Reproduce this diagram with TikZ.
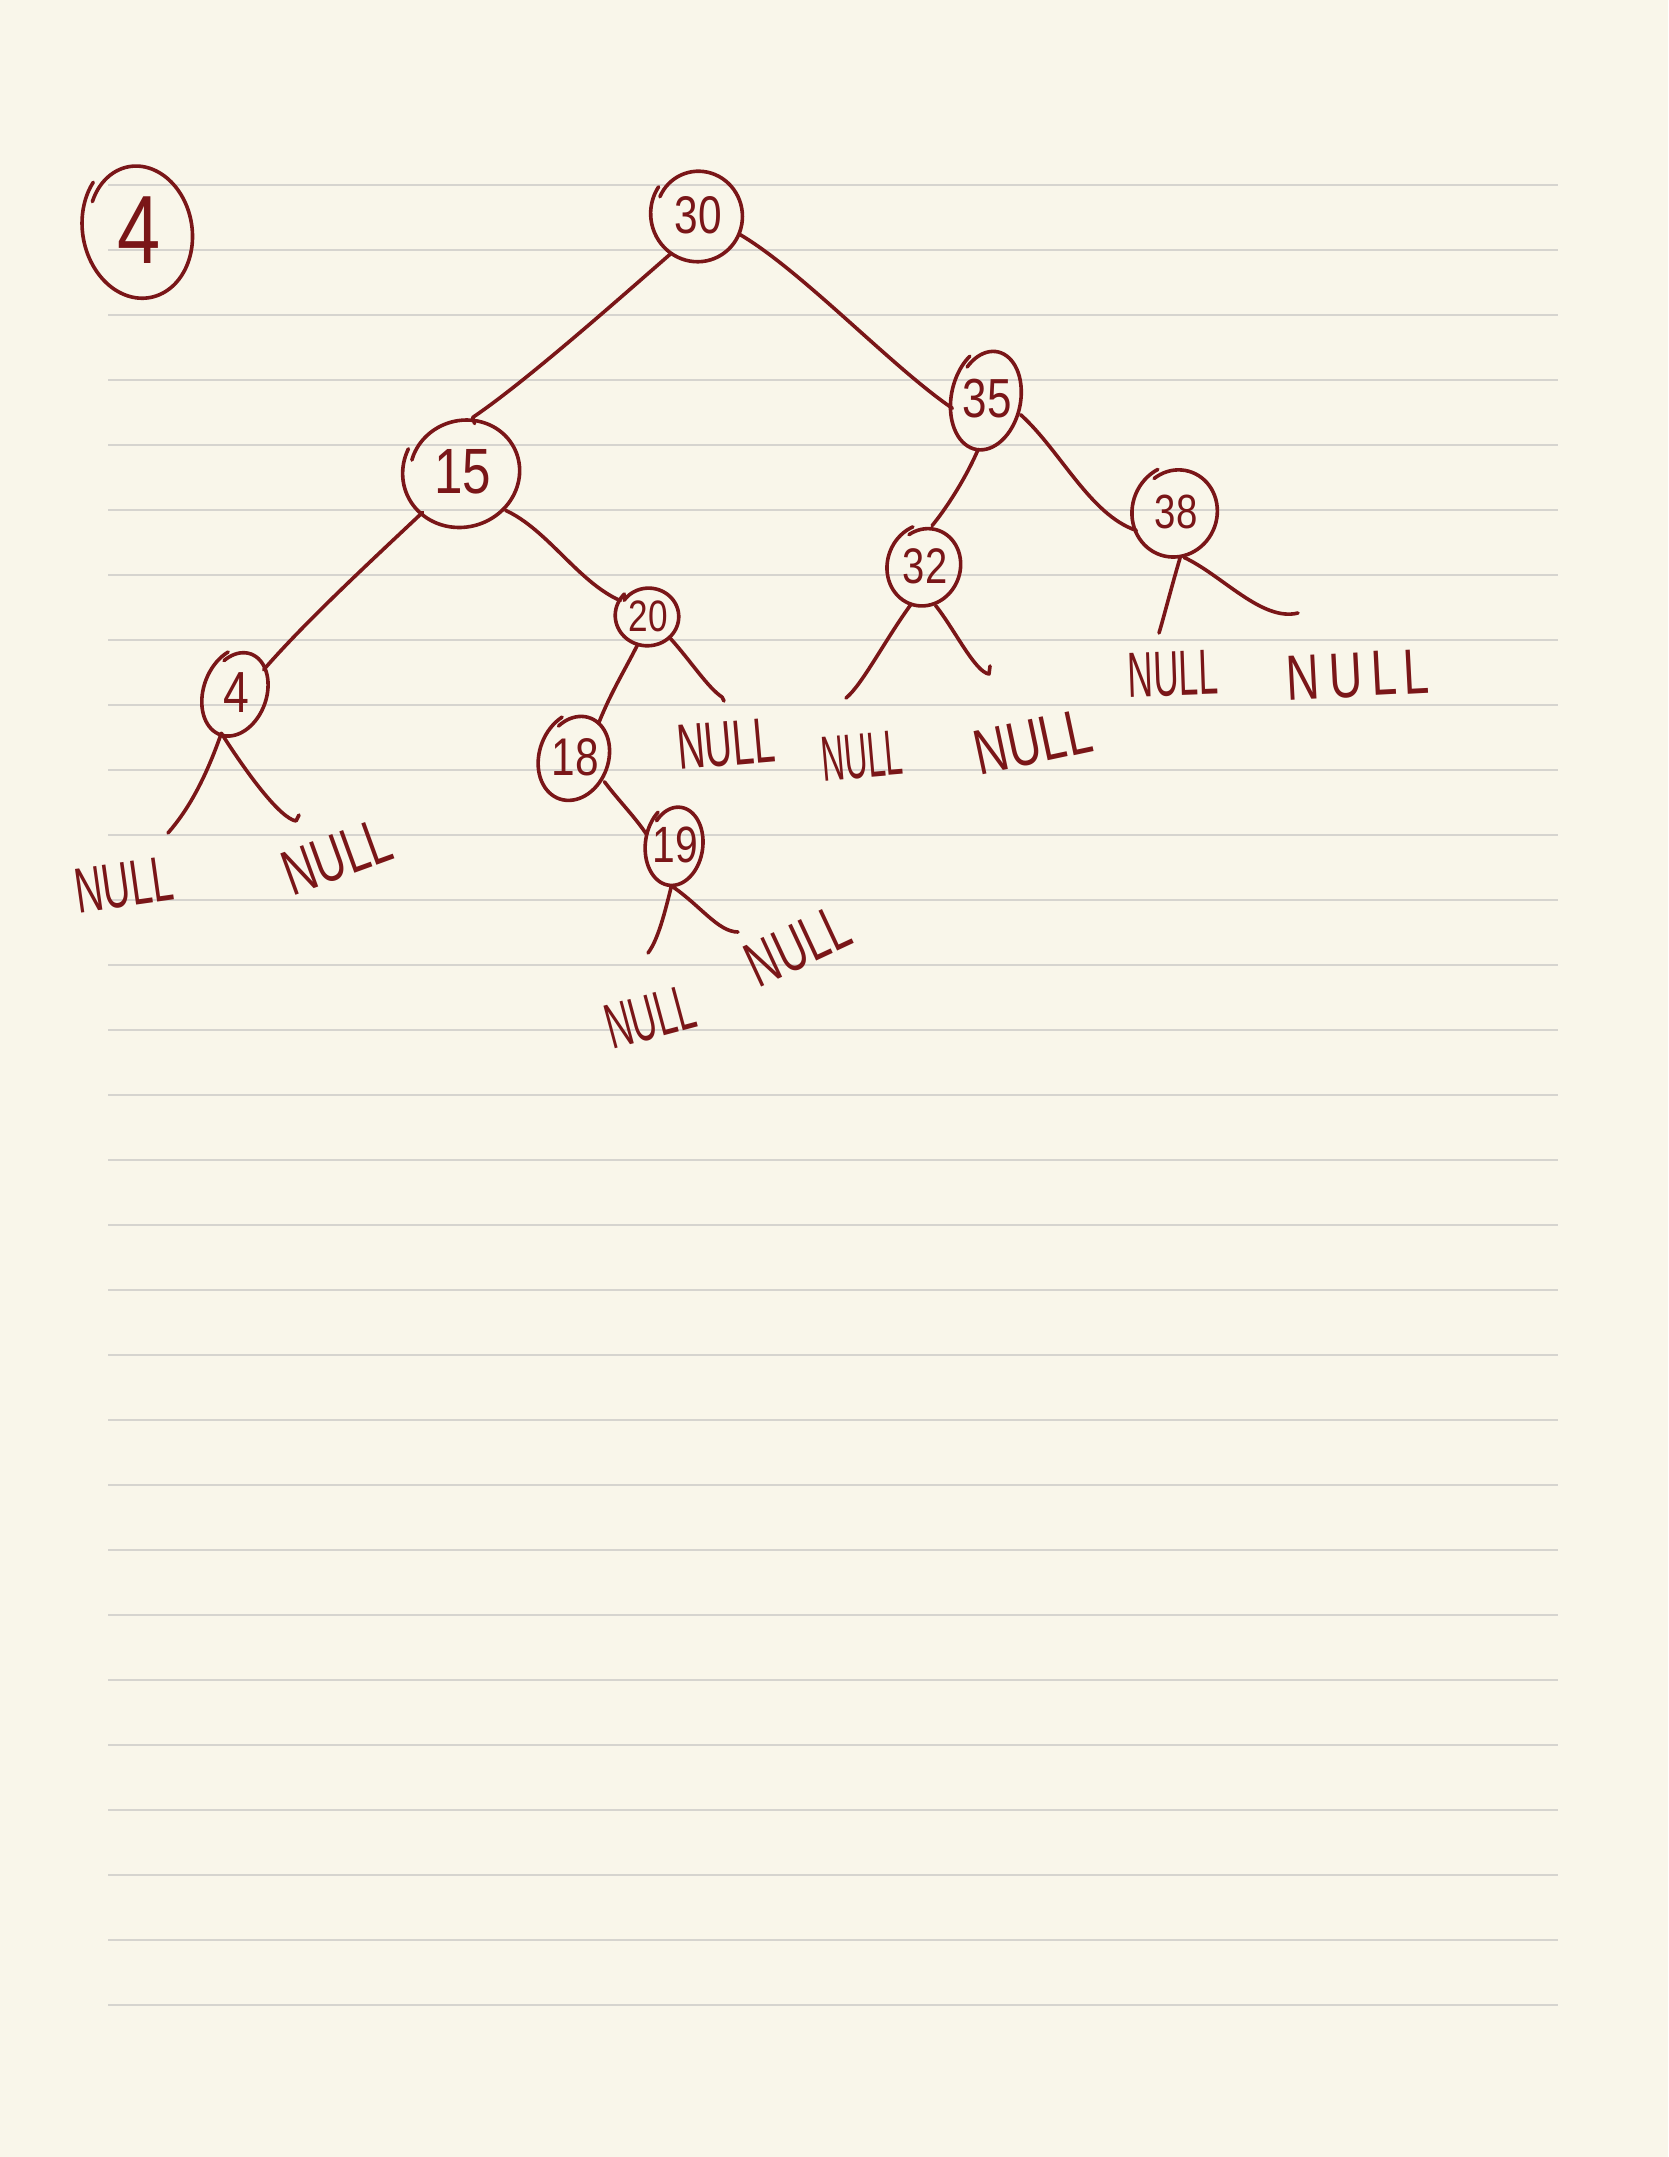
\documentclass[tikz,border=0pt]{standalone}
\usepackage{fontspec}
\setmainfont{Liberation Sans}
\usetikzlibrary{shapes.geometric}
\definecolor{paper}{RGB}{249,246,234}
\definecolor{rulecol}{RGB}{214,212,207}
\definecolor{ink}{RGB}{122,22,24}
\tikzset{
  inkline/.style={draw=ink, line width=3.6pt, line cap=round, line join=round},
  circ/.style={ellipse, draw=none, inner sep=0pt, text=ink},
  numfont/.style={font=\fontsize{#1}{#1}\selectfont\addfontfeature{FakeStretch=0.8}},
  nul/.style={text=ink, inner sep=0pt, font=\fontsize{64}{64}\selectfont},
  ruled/.style={draw=rulecol, line width=2pt},
}
% cx cy rx ry start end tilt
\newcommand{\handloop}[7]{%
  \draw[inkline, rotate around={#7:(#1,#2)}] plot[smooth, domain=#5:#6, samples=72, variable=\t]
   ({#1+#3*(0.91+0.13*(\t-#5)/(#6-#5))*cos(\t)}, {#2+#4*(0.91+0.13*(\t-#5)/(#6-#5))*sin(\t)});}
\begin{document}
\begin{tikzpicture}[x=1pt, y=-1pt]
\fill[paper] (0,0) rectangle (1668,2157);
\useasboundingbox (0,0) rectangle (1668,2157);
\foreach \k in {0,...,28} \draw[ruled] (108,{184.5+65*\k}) -- (1558,{184.5+65*\k});

% circled label
\node[circ, numfont=97, minimum width=110pt, minimum height=138pt] (top4) at (139,230) {\makebox[0pt]{4}};
\handloop{139}{230}{55}{69}{215}{590}{10}

% tree nodes
\node[circ, numfont=53, minimum width=92pt, minimum height=94pt] (n30) at (698,215) {\makebox[0pt]{30}};
\handloop{698}{215}{46}{47}{220}{590}{15}

\node[circ, numfont=64, minimum width=118pt, minimum height=110pt] (n15) at (463,472) {\makebox[0pt]{15}};
\handloop{463}{472}{59}{55}{215}{585}{20}

\node[circ, numfont=55, minimum width=70pt, minimum height=104pt] (n35) at (987,399) {\makebox[0pt]{35}};
\handloop{987}{399}{35}{52}{215}{585}{-12}

\node[circ, numfont=58, minimum width=64pt, minimum height=90pt] (n4) at (236,693) {\makebox[0pt]{4}};
\handloop{236}{693}{32}{45}{220}{590}{-20}

\node[circ, numfont=44, minimum width=64pt, minimum height=60pt] (n20) at (648,616) {\makebox[0pt]{20}};
\handloop{648}{616}{32}{30}{215}{585}{0}

\node[circ, numfont=50, minimum width=74pt, minimum height=82pt] (n32) at (925,566) {\makebox[0pt]{32}};
\handloop{925}{566}{37}{41}{220}{590}{-20}

\node[circ, numfont=48, minimum width=86pt, minimum height=92pt] (n38) at (1176,512) {\makebox[0pt]{38}};
\handloop{1176}{512}{43}{46}{215}{585}{-20}

\node[circ, numfont=53, minimum width=70pt, minimum height=90pt] (n18) at (575,757) {\makebox[0pt]{18}};
\handloop{575}{757}{35}{45}{215}{585}{-20}

\node[circ, numfont=51, minimum width=58pt, minimum height=82pt] (n19) at (675,845) {\makebox[0pt]{19}};
\handloop{675}{845}{29}{41}{215}{585}{-8}

% free ends
\coordinate (c4L) at (168,833);
\coordinate (c4R) at (296,821);
\coordinate (c20R) at (722,697);
\coordinate (c19L) at (648,953);
\coordinate (c19R) at (738,932);
\coordinate (c32L) at (846,698);
\coordinate (c32R) at (989,674);
\coordinate (c38L) at (1159,633);
\coordinate (c38R) at (1298,613);

% connectors
\draw[inkline] (n30.235) .. controls (612,305) and (525,382) .. (n15.80) -- ++(2,6);
\draw[inkline] (n30.-25) .. controls (802,271) and (893,368) .. (n35.195);
\draw[inkline] (n35.-25) .. controls (1060,450) and (1090,515) .. (n38.205);
\draw[inkline] (n35.-100) .. controls (965,480) and (945,510) .. (n32.80);
\draw[inkline] (n15.225) .. controls (372,560) and (305,622) .. (n4.40);
\draw[inkline] (n15.-42) .. controls (548,530) and (578,582) .. (n20.151);
\draw[inkline] (n4.-110) .. controls (205,780) and (188,810) .. (c4L);
\draw[inkline] (n4.-110) .. controls (248,775) and (280,818) .. (c4R) -- ++(3,-6);
\draw[inkline] (n20.-110) .. controls (625,670) and (612,690) .. (n18.55);
\draw[inkline] (n20.-45) .. controls (690,660) and (708,688) .. (c20R) -- ++(2,4);
\draw[inkline] (n18.-40) .. controls (618,800) and (636,818) .. (n19.160);
\draw[inkline] (n19.-95) .. controls (665,912) and (658,940) .. (c19L);
\draw[inkline] (n19.-95) .. controls (700,905) and (718,932) .. (c19R);
\draw[inkline] (n32.-110) .. controls (885,640) and (862,685) .. (c32L);
\draw[inkline] (n32.-75) .. controls (955,630) and (975,672) .. (c32R) -- ++(1,-8);
\draw[inkline] (n38.-85) .. controls (1172,585) and (1163,620) .. (c38L);
\draw[inkline] (n38.-80) .. controls (1222,575) and (1262,622) .. (c38R);

% NULL labels
\node[nul, rotate=8] (N1) at (124,885) {\addfontfeature{FakeStretch=0.6}NULL};
\node[nul, rotate=20] (N2) at (337,857) {\addfontfeature{FakeStretch=0.68}NULL};
\node[nul, rotate=5] (N3) at (726,744) {\addfontfeature{FakeStretch=0.6}NULL};
\node[nul, rotate=5] (N4) at (862,756) {\addfontfeature{FakeStretch=0.5}NULL};
\node[nul, rotate=12] (N5) at (1033,742) {\addfontfeature{FakeStretch=0.72}NULL};
\node[nul, rotate=2] (N6) at (1173,674) {\addfontfeature{FakeStretch=0.55}NULL};
\node[nul, rotate=3] (N7) at (1358,675) {\addfontfeature{FakeStretch=0.72}N\kern9pt U\kern9pt L\kern7pt L};
\node[nul, rotate=15] (N8) at (650,1017) {\addfontfeature{FakeStretch=0.55}NULL};
\node[nul, rotate=25] (N9) at (798,946) {\addfontfeature{FakeStretch=0.65}NULL};
\end{tikzpicture}
\end{document}
